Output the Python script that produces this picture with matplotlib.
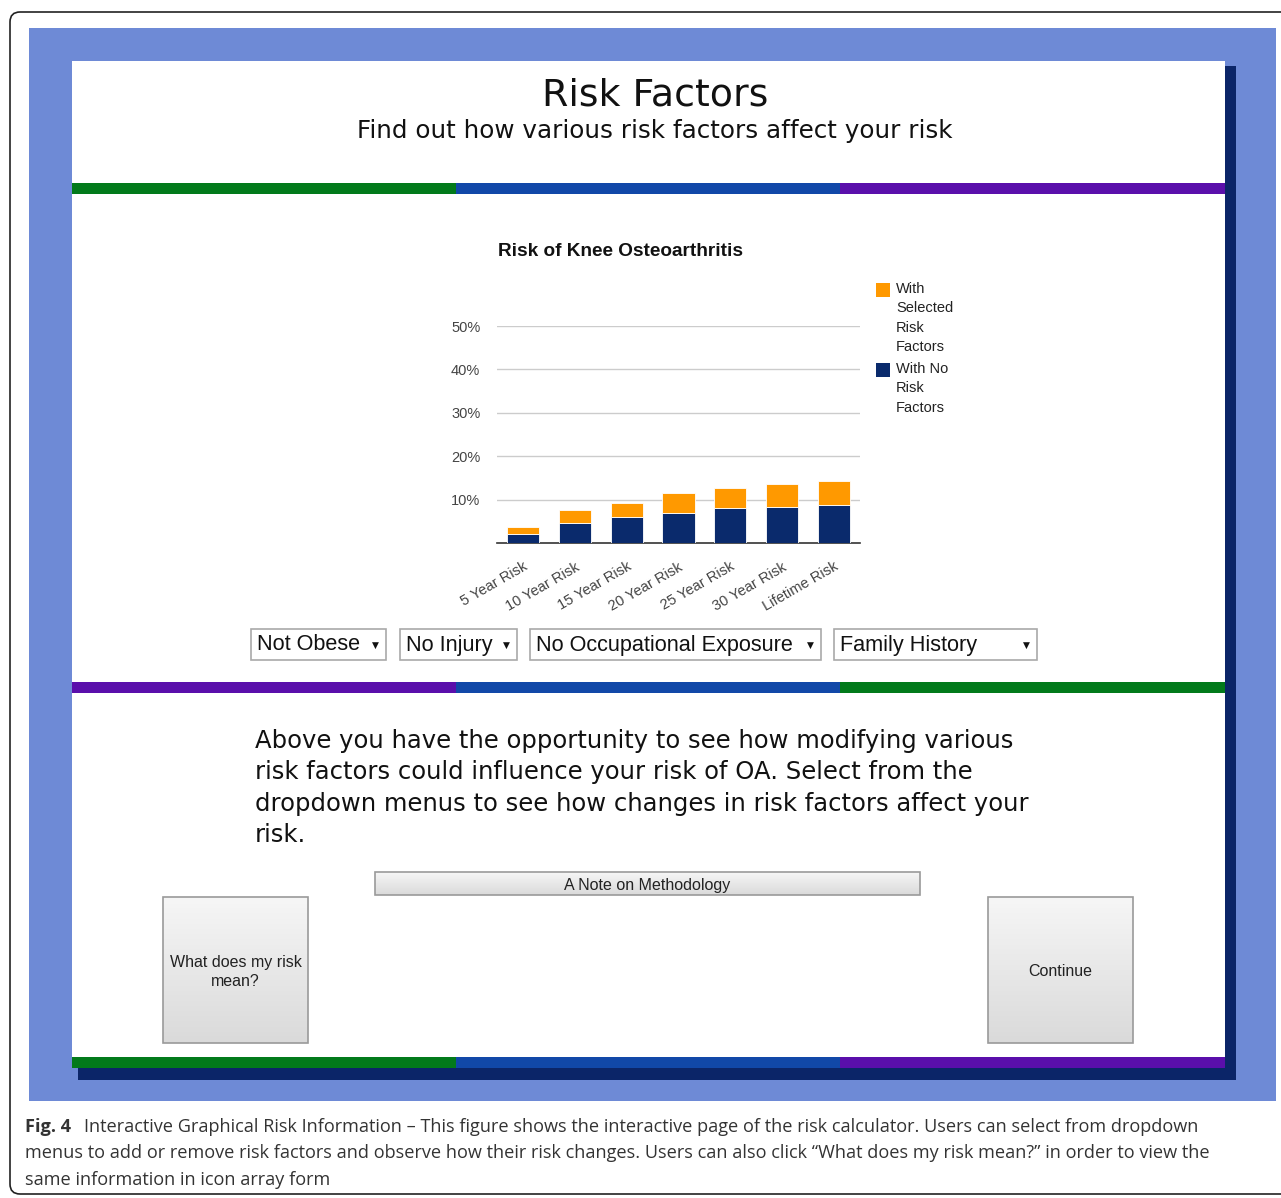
import numpy as np
import matplotlib
matplotlib.use("Agg")
from matplotlib import pyplot as plt
from matplotlib.patches import Rectangle, FancyBboxPatch
from matplotlib.colors import LinearSegmentedColormap

# ---- data ----
periods = ['5 Year Risk', '10 Year Risk', '15 Year Risk', '20 Year Risk',
           '25 Year Risk', '30 Year Risk', 'Lifetime Risk']
risk_none = [2.1, 4.5, 5.9, 7.0, 8.0, 8.4, 8.8]          # with no risk factors (%)
risk_selected = [3.8, 7.5, 9.2, 11.5, 12.7, 13.5, 14.4]  # with selected risk factors (%)
y_ticks = [10, 20, 30, 40, 50]
series_labels = ['With\nSelected\nRisk\nFactors', 'With No\nRisk\nFactors']
dropdowns = ['Not Obese', 'No Injury', 'No Occupational Exposure', 'Family History']
paragraph = ['Above you have the opportunity to see how modifying various',
             'risk factors could influence your risk of OA. Select from the',
             'dropdown menus to see how changes in risk factors affect your',
             'risk.']
caption = ['Interactive Graphical Risk Information \u2013 This figure shows the interactive page of the risk calculator. Users can select from dropdown',
           'menus to add or remove risk factors and observe how their risk changes. Users can also click \u201cWhat does my risk mean?\u201d in order to view the',
           'same information in icon array form']

ORANGE = '#FF9900'
NAVY = '#0A2A6C'
GREEN = '#027A1B'
BLUE = '#1148A8'
PURPLE = '#5A0FAB'
BG = '#6E8AD6'

W, H = 1281, 1198
fig = plt.figure(figsize=(W / 100, H / 100), dpi=100)

# canvas axes in pixel coords
cv = fig.add_axes([0, 0, 1, 1])
cv.axis('off')

# outer rounded frame
cv.add_patch(FancyBboxPatch((10, 12), 1290, 1182, boxstyle='round,pad=0,rounding_size=10',
                            fc='white', ec='#222222', lw=1.2))
# blue page background
cv.add_patch(Rectangle((29, 28), 1247, 1073, fc=BG, ec='none'))
# navy shadow of the panel
cv.add_patch(Rectangle((78, 66), 1158, 1014, fc='#0B2568', ec='none'))
# white panel
cv.add_patch(Rectangle((72, 61), 1153, 1007, fc='white', ec='none'))


def color_bar(y, cols):
    xs = [72, 456, 840, 1225]
    for i, c in enumerate(cols):
        cv.add_patch(Rectangle((xs[i], y), xs[i + 1] - xs[i], 11, fc=c, ec='none'))


color_bar(183, [GREEN, BLUE, PURPLE])
color_bar(682, [PURPLE, BLUE, GREEN])
color_bar(1057, [GREEN, BLUE, PURPLE])

cv.text(655, 95, 'Risk Factors', ha='center', va='center', fontsize=27.3,
        family='DejaVu Sans', color='#111111')
cv.text(655, 131, 'Find out how various risk factors affect your risk', ha='center',
        va='center', fontsize=17.7, family='DejaVu Sans', color='#111111')

# ---- bar chart ----
ax = fig.add_axes([497 / W, 1 - 543 / H, (860 - 497) / W, (543 - 326) / H])
x = np.arange(len(periods))
extra = np.array(risk_selected) - np.array(risk_none)
ax.bar(x, risk_none, width=0.62, color=NAVY, edgecolor='white', linewidth=0.6, zorder=3)
ax.bar(x, extra, bottom=risk_none, width=0.62, color=ORANGE, edgecolor='white',
       linewidth=0.6, zorder=3)
ax.set_xlim(-0.5, len(periods) - 0.5)
ax.set_ylim(0, 50)
ax.set_yticks(y_ticks)
ax.set_yticklabels([f'{v}%' for v in y_ticks], fontsize=10.5, color='#444444',
                   family='Liberation Sans')
ax.grid(axis='y', color='#CCCCCC', lw=1, zorder=0)
ax.set_xticks(x)
ax.set_xticklabels(periods, rotation=30, ha='right', rotation_mode='anchor',
                   fontsize=10.5, color='#444444', family='Liberation Sans')
ax.tick_params(length=0, pad=12)
for s in ['top', 'right', 'left']:
    ax.spines[s].set_visible(False)
ax.spines['bottom'].set_color('#333333')
ax.spines['bottom'].set_linewidth(1.2)
ax.patch.set_alpha(0)

cv.text(620, 252, 'Risk of Knee Osteoarthritis', ha='center', va='center',
        fontsize=13.7, fontweight='bold', family='Liberation Sans', color='#111111')

# legend
for lab, col, y0 in zip(series_labels, [ORANGE, NAVY], [283, 363]):
    cv.add_patch(Rectangle((876, y0), 14, 14, fc=col, ec='none'))
    cv.text(896, y0 - 1, lab, ha='left', va='top', fontsize=10.5, linespacing=1.48,
            family='Liberation Sans', color='#222222')

# ---- dropdowns ----
dd_x = [(251, 386), (400, 517), (530, 821), (834, 1037)]
for lab, (x0, x1) in zip(dropdowns, dd_x):
    cv.add_patch(Rectangle((x0, 629), x1 - x0, 31, fc='white', ec='#A9A9A9', lw=1.2))
    cv.text(x0 + 6, 645, lab, ha='left', va='center', fontsize=15.6,
            family='Liberation Sans', color='#111111')
    cv.text(x1 - 11, 645, '\u25bc', ha='center', va='center', fontsize=6.5,
            family='DejaVu Sans', color='#111111')

# ---- paragraph ----
for i, line in enumerate(paragraph):
    cv.text(255, 741 + i * 31.5, line, ha='left', va='center', fontsize=17.5,
            family='DejaVu Sans', color='#111111')

# ---- buttons ----
grad = np.linspace(0, 1, 64).reshape(-1, 1)
grey_cmap = LinearSegmentedColormap.from_list('g', ['#F6F6F6', '#DADADA'])


def button(x0, y0, w, h, label):
    cv.imshow(grad, extent=(x0, x0 + w, y0 + h, y0), cmap=grey_cmap,
              aspect='auto', zorder=2)
    cv.add_patch(Rectangle((x0, y0), w, h, fc='none', ec='#9A9A9A', lw=1.2, zorder=3))
    cv.text(x0 + w / 2, y0 + h / 2 + 2, label, ha='center', va='center', fontsize=11.5,
            family='Liberation Sans', color='#222222', linespacing=1.3, zorder=4)


button(375, 872, 545, 23, 'A Note on Methodology')
button(163, 897, 145, 146, 'What does my risk\nmean?')
button(988, 897, 145, 146, 'Continue')
cv.set_xlim(0, W)
cv.set_ylim(H, 0)

# ---- caption ----
cv.text(25, 1127, 'Fig. 4', ha='left', va='center', fontsize=13.1, fontweight='bold',
        family='Open Sans', color='#333333')
cv.text(84, 1127, caption[0], ha='left', va='center', fontsize=13.1,
        family='Open Sans', color='#333333')
cv.text(25, 1153, caption[1], ha='left', va='center', fontsize=13.1,
        family='Open Sans', color='#333333')
cv.text(25, 1180, caption[2], ha='left', va='center', fontsize=13.1,
        family='Open Sans', color='#333333')

fig.savefig('out.png', dpi=100)
